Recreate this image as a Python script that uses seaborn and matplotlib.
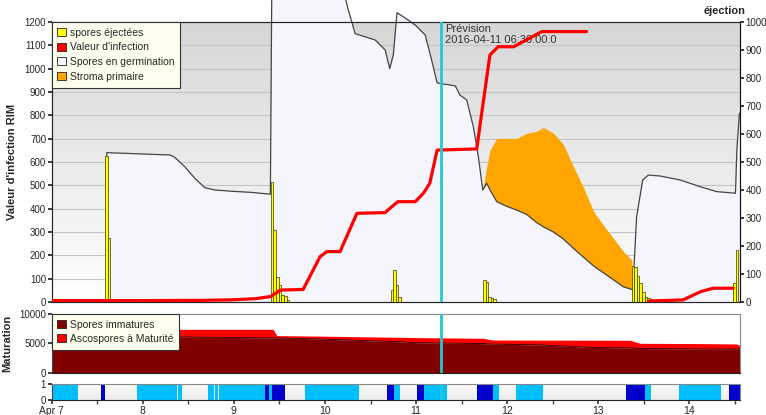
import numpy as np
import pandas as pd
import matplotlib
matplotlib.use("Agg")
import matplotlib.pyplot as plt
from matplotlib.patches import Patch
from matplotlib.colors import LinearSegmentedColormap
import seaborn as sns

# ---------------- data (time in days since Apr 7 00:00) ----------------
day_labels = ["Apr 7", "8", "9", "10", "11", "12", "13", "14"]
x_end = 7.555
forecast_t = 4.27
forecast_label = "Prévision\n2016-04-11 06:30:00.0"

# Spores en germination (left axis)
germ_t = [0.0, 0.605, 0.605, 1.30, 1.35, 1.46, 1.57, 1.68, 1.79, 1.96, 2.18, 2.40,
          2.42, 3.10, 3.25, 3.33, 3.55, 3.66, 3.71, 3.75, 3.79, 3.88, 3.99, 4.10,
          4.17, 4.23, 4.43, 4.48, 4.555, 4.628, 4.683, 4.731, 4.775, 4.811, 4.885,
          4.995, 5.104, 5.214, 5.324, 5.397, 5.507, 5.616, 5.726, 5.836, 5.946,
          6.056, 6.166, 6.275, 6.367, 6.378, 6.42, 6.487, 6.549, 6.678, 6.898,
          7.118, 7.30, 7.505, 7.52, 7.548]
germ_v = [0, 0, 640, 630, 620, 580, 530, 490, 480, 475, 470, 462,
          1600, 1500, 1260, 1150, 1123, 1080, 1000, 1060, 1240, 1217, 1187, 1144,
          1037, 939, 926, 887, 866, 751, 623, 480, 509, 480, 430,
          410, 394, 375, 340, 322, 300, 270, 230, 192, 155,
          125, 95, 65, 54, 50, 366, 523, 544, 540, 523,
          494, 473, 466, 651, 809]
# Stroma primaire (stacked on germination)
stroma_v = [0, 0, 0, 0, 0, 0, 0, 0, 0, 0, 0, 0,
            0, 0, 0, 0, 0, 0, 0, 0, 0, 0, 0, 0,
            0, 0, 0, 0, 0, 0, 0, 0, 71, 171, 271,
            291, 307, 348, 392, 426, 423, 405, 350, 299, 234,
            203, 178, 151, 126, 0, 0, 0, 0, 0, 0,
            0, 0, 0, 0, 0]

# Valeur d'infection (left axis), NaN = gap
inf_t = [0.0, 1.08, 1.63, 1.96, 2.23, 2.40, 2.51, 2.76, 2.945, 3.02, 3.165, 3.35,
         3.66, 3.71, 3.80, 3.99, 4.08, 4.15, 4.23, 4.665, 4.74, 4.81, 4.90, 5.07,
         5.21, 5.38, 5.87, 6.2, 6.55, 6.93, 7.12, 7.26, 7.48]
inf_v = [6, 6, 7, 9, 14, 23, 51, 54, 194, 216, 216, 380,
         383, 401, 430, 430, 466, 509, 651, 656, 866, 1059, 1094, 1094,
         1123, 1159, 1159, np.nan, 4, 9, 44, 59, 59]

# spores éjectées (right axis)
spore_t = [0.585, 0.613,
           2.404, 2.433, 2.462, 2.490, 2.520, 2.550, 2.580,
           3.720, 3.750, 3.778, 3.806,
           4.737, 4.765, 4.793, 4.821, 4.849,
           6.367, 6.395, 6.423, 6.451, 6.479, 6.507, 6.535, 6.563,
           7.480, 7.508]
spore_v = [520, 229,
           430, 257, 90, 61, 25, 21, 8,
           43, 114, 61, 19,
           79, 73, 19, 16, 11,
           130, 125, 93, 67, 37, 19, 13, 10,
           67, 186]

# Maturation
mat_t = [0.0, 1.5, 2.43, 2.47, 2.72, 3.82, 4.0, 4.74, 4.81, 4.85, 5.39, 5.91,
         6.35, 6.46, 7.15, 7.52, 7.555]
immature_v = [6160, 6100, 5950, 5930, 5880, 5300, 5140, 4980, 4920, 4900, 4750,
              4350, 4250, 4150, 4070, 4070, 4070]
total_v = [7400, 7400, 7400, 6330, 6300, 6050, 6000, 5880, 5650, 5590, 5570,
           5560, 5540, 5030, 4980, 4920, 4630]

# Bottom strip (1 = light blue, 2 = dark blue)
strip_start = [0.00, 0.54, 0.94, 1.39, 1.71, 1.79, 1.84, 2.34, 2.38, 2.42, 2.78,
               3.68, 3.755, 4.01, 4.09, 4.67, 4.84, 5.10, 6.30, 6.51, 6.89, 7.43]
strip_end = [0.29, 0.59, 1.37, 1.43, 1.78, 1.83, 2.34, 2.38, 2.42, 2.56, 3.37,
             3.755, 3.82, 4.09, 4.34, 4.84, 4.91, 5.39, 6.51, 6.58, 7.35, 7.555]
strip_kind = [1, 2, 1, 1, 1, 1, 1, 2, 1, 2, 1,
              2, 1, 2, 1, 2, 1, 1, 2, 1, 1, 2]

# ---------------- style ----------------
sns.set_theme(style="white")
plt.rcParams['font.family'] = ['Liberation Sans', 'DejaVu Sans']
plt.rcParams['axes.linewidth'] = 0.8

C_GERM = "#F5F6FD"
C_STROMA = "#FFA500"
C_RED = "#FF0000"
C_YEL = "#FFFF00"
C_CYAN = "#22C8D4"
C_IMM = "#800000"
C_LB = "#00BFFF"
C_DB = "#0000CD"

fig = plt.figure(figsize=(7.66, 4.15), dpi=100)
L, W = 0.0675, 0.8986
ax = fig.add_axes([L, 0.2723, W, 0.6747])
ax_m = fig.add_axes([L, 0.1012, W, 0.1422])
ax_s = fig.add_axes([L, 0.0361, W, 0.0386])

# ----- main axes -----
grad = np.linspace(0, 1, 256).reshape(-1, 1)
cm_bg = LinearSegmentedColormap.from_list("bg", ["#FFFFFF", "#D6D6D6"])
ax.imshow(grad, extent=[0, 1, 0, 1], transform=ax.transAxes, aspect='auto',
          cmap=cm_bg, origin='lower', zorder=0)
ax.set_xlim(0, x_end)
ax.set_ylim(0, 1200)
ax.set_yticks(range(0, 1201, 100))
for yv in range(100, 1200, 100):
    ax.axhline(yv, color="#C4C4C4", lw=0.8, zorder=0.5)

gdf = pd.DataFrame({"t": germ_t, "g": germ_v, "s": stroma_v})
gdf["top"] = gdf["g"] + gdf["s"]
fb = ax.fill_between(gdf["t"], 0, gdf["g"], color=C_GERM, lw=0, zorder=1)
fb.set_clip_on(False)
smask = gdf["s"] > 0
idx = np.where(smask)[0]
sl = slice(idx[0] - 1, idx[-1] + 2)
ax.fill_between(gdf["t"][sl], gdf["g"][sl], gdf["top"][sl], color=C_STROMA, lw=0, zorder=1.5)
sns.lineplot(data=gdf, x="t", y="g", ax=ax, color="#444444", lw=0.9,
             estimator=None, sort=False, zorder=2, clip_on=False)
ax.set_xlabel("")
ax.set_ylabel("Valeur d'infection RIM", fontsize=8, fontweight="bold")
ax.yaxis.set_label_coords(-0.05, 0.5)
ax.set_xticks(np.arange(0, 8, 1))
ax.set_xticklabels([])
ax.tick_params(axis='y', labelsize=7, length=3, direction='out', left=True, pad=1)
ax.tick_params(axis='x', length=0)
for s in ax.spines.values():
    s.set_color("#333333")

# right axis: spores
ax2 = ax.twinx()
ax2.set_ylim(0, 1000)
ax2.set_yticks(range(0, 1001, 100))
ax2.bar(spore_t, spore_v, width=0.028, align='edge', color=C_YEL,
        edgecolor="#3A3A00", lw=0.5, zorder=3)
ax2.tick_params(axis='y', labelsize=7, length=3, direction='out', right=True, pad=1)
ax2.spines['right'].set_color("#111111")
ax2.set_xlim(0, x_end)

# top layer: infection line
ax3 = ax.twinx()
ax3.set_ylim(0, 1200)
ax3.set_xlim(0, x_end)
ax3.axis('off')
idf = pd.DataFrame({"t": inf_t, "v": inf_v})
grp = idf["v"].isna().cumsum()
for _, seg in idf[idf["v"].notna()].groupby(grp[idf["v"].notna()]):
    sns.lineplot(data=seg, x="t", y="v", ax=ax3, color=C_RED, lw=2.3,
                 estimator=None, sort=False, zorder=4)
ax3.axvline(forecast_t, color=C_CYAN, lw=2, zorder=5)
ax3.text(forecast_t + 0.05, 1192, forecast_label, fontsize=8, color="#333333",
         va="top", ha="left", linespacing=1.2)

handles = [Patch(facecolor=C_YEL, edgecolor="#222222", lw=0.6, label="spores éjectées"),
           Patch(facecolor=C_RED, edgecolor="#222222", lw=0.6, label="Valeur d'infection"),
           Patch(facecolor=C_GERM, edgecolor="#222222", lw=0.6, label="Spores en germination"),
           Patch(facecolor=C_STROMA, edgecolor="#222222", lw=0.6, label="Stroma primaire")]
leg = ax3.legend(handles=handles, loc="upper left", bbox_to_anchor=(0, 1),
                 borderaxespad=0, fontsize=7.5, frameon=True, fancybox=False,
                 handlelength=0.8, handleheight=0.8, handletextpad=0.4,
                 labelspacing=0.45, borderpad=0.55)
leg.get_frame().set_facecolor("#FFFFF0")
leg.get_frame().set_edgecolor("#333333")
leg.get_frame().set_linewidth(0.8)
leg.get_frame().set_alpha(1)
leg.set_zorder(10)

fig.text(0.974, 0.985, "éjection", fontsize=8, fontweight="bold", ha="right", va="top")

# ----- maturation axes -----
mdf = pd.DataFrame({"t": mat_t, "imm": immature_v, "tot": total_v})
ax_m.fill_between(mdf["t"], mdf["imm"], mdf["tot"], color=C_RED, lw=0, zorder=1)
ax_m.fill_between(mdf["t"], 0, mdf["imm"], color=C_IMM, lw=0, zorder=1.5)
sns.lineplot(data=mdf, x="t", y="imm", ax=ax_m, color="#300000", lw=0.6,
             estimator=None, zorder=2)
ax_m.set_xlim(0, x_end)
ax_m.set_ylim(0, 10000)
ax_m.set_yticks([0, 5000, 10000])
ax_m.set_xticks([])
ax_m.set_xlabel("")
ax_m.set_ylabel("Maturation", fontsize=8, fontweight="bold")
ax_m.yaxis.set_label_coords(-0.058, 0.5)
ax_m.tick_params(axis='y', labelsize=7, length=3, direction='out', left=True, pad=1)
for s in ax_m.spines.values():
    s.set_color("#888888")
ax_m.spines['bottom'].set_color("#222222")
ax_m.spines['left'].set_color("#444444")
ax_m.axvline(forecast_t, color=C_CYAN, lw=2, zorder=5)
mh = [Patch(facecolor=C_IMM, edgecolor="#222222", lw=0.6, label="Spores immatures"),
      Patch(facecolor=C_RED, edgecolor="#222222", lw=0.6, label="Ascospores à Maturité")]
leg2 = ax_m.legend(handles=mh, loc="upper left", bbox_to_anchor=(0, 1),
                   borderaxespad=0, fontsize=7.5, frameon=True, fancybox=False,
                   handlelength=0.8, handleheight=0.8, handletextpad=0.4,
                   labelspacing=0.4, borderpad=0.55)
leg2.get_frame().set_facecolor("#FFFFF0")
leg2.get_frame().set_edgecolor("#333333")
leg2.get_frame().set_linewidth(0.8)
leg2.get_frame().set_alpha(1)
leg2.set_zorder(10)

# ----- strip axes -----
cm_s = LinearSegmentedColormap.from_list("sg", ["#EAEAEA", "#FFFFFF"])
ax_s.imshow(grad, extent=[0, 1, 0, 1], transform=ax_s.transAxes, aspect='auto',
            cmap=cm_s, origin='lower', zorder=0)
sdf = pd.DataFrame({"a": strip_start, "b": strip_end, "k": strip_kind})
ax_s.bar(sdf["a"], np.ones(len(sdf)), width=sdf["b"] - sdf["a"], align='edge',
         color=[C_LB if k == 1 else C_DB for k in sdf["k"]], lw=0, zorder=1)
ax_s.set_xlim(0, x_end)
ax_s.set_ylim(0, 1)
ax_s.set_yticks([0, 1])
ax_s.set_xticks(np.arange(0, 8, 1))
ax_s.set_xticklabels(day_labels)
ax_s.set_xticks(np.arange(0.5, 7.6, 0.5), minor=True)
ax_s.tick_params(axis='x', which='both', labelsize=7.5, length=3, direction='out',
                 bottom=True, pad=1, color="#444444")
ax_s.tick_params(axis='y', labelsize=7, length=3, direction='out', left=True, pad=1)
for s in ax_s.spines.values():
    s.set_color("#888888")
ax_s.spines['bottom'].set_color("#222222")
ax_s.spines['left'].set_color("#444444")
ax_s.axvline(forecast_t, color=C_CYAN, lw=2, zorder=5)

fig.savefig("out.png", dpi=100)
